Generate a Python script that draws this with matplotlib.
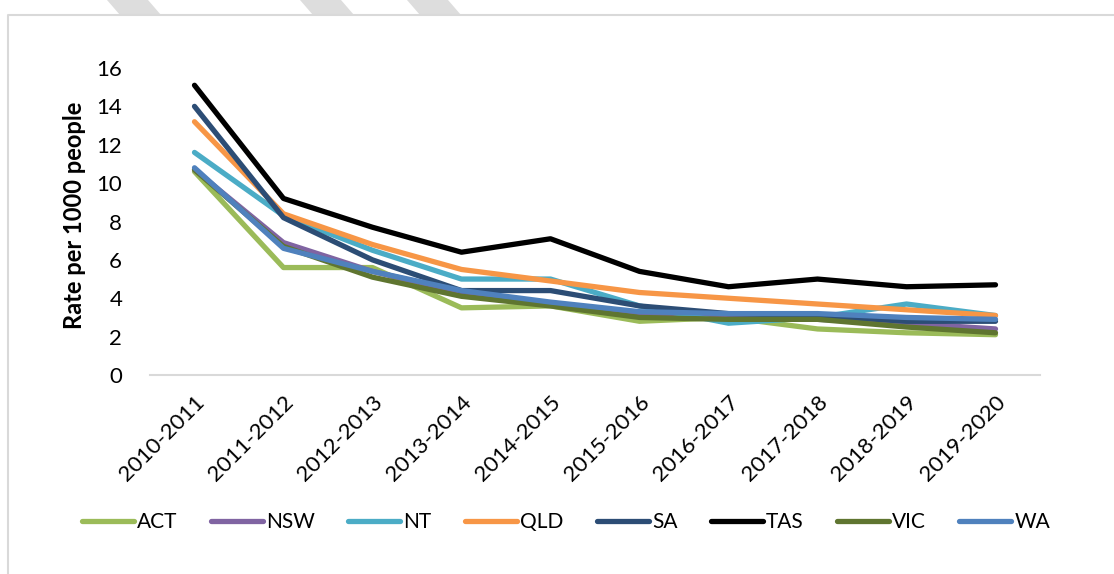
import matplotlib.pyplot as plt
from matplotlib.patches import Polygon
from matplotlib.lines import Line2D

plt.rcParams['font.family'] = ['Lato', 'DejaVu Sans']

years = ['2010-2011', '2011-2012', '2012-2013', '2013-2014', '2014-2015',
         '2015-2016', '2016-2017', '2017-2018', '2018-2019', '2019-2020']

act = [10.6, 5.6, 5.6, 3.5, 3.6, 2.8, 3.0, 2.4, 2.2, 2.1]
nsw = [10.7, 6.9, 5.4, 4.3, 3.7, 3.2, 3.0, 2.9, 2.7, 2.4]
nt = [11.6, 8.3, 6.5, 5.0, 5.0, 3.6, 2.7, 3.0, 3.7, 3.1]
qld = [13.2, 8.4, 6.8, 5.5, 4.9, 4.3, 4.0, 3.7, 3.4, 3.1]
sa = [14.0, 8.2, 6.0, 4.4, 4.4, 3.6, 3.2, 3.1, 2.8, 2.8]
tas = [15.1, 9.2, 7.7, 6.4, 7.1, 5.4, 4.6, 5.0, 4.6, 4.7]
vic = [10.7, 6.7, 5.1, 4.1, 3.6, 3.0, 2.9, 2.9, 2.5, 2.2]
wa = [10.8, 6.6, 5.4, 4.4, 3.8, 3.3, 3.2, 3.2, 3.0, 2.9]

states = ['ACT', 'NSW', 'NT', 'QLD', 'SA', 'TAS', 'VIC', 'WA']
series = [act, nsw, nt, qld, sa, tas, vic, wa]
colors = ['#9BBB59', '#8064A2', '#4BACC6', '#F79646',
          '#2C4D75', '#000000', '#5F7530', '#4F81BD']

W, H = 1114, 574
fig = plt.figure(figsize=(W / 100, H / 100), dpi=100)

# frame (left + top only) and decorative stripes at the top
fig.add_artist(Line2D([8 / W, 8 / W, 1.0], [0.0, 1 - 15 / H, 1 - 15 / H],
                      transform=fig.transFigure, color='#D9D9D9', linewidth=1.5))
for x0 in [107, 300, 407]:
    pts = [(x0, 0), (x0 + 41, 0), (x0 + 54, 15), (x0 + 13, 15)]
    fig.patches.append(Polygon([(px / W, 1 - py / H) for px, py in pts], closed=True,
                               transform=fig.transFigure, facecolor='#DDDDDD', edgecolor='none'))

ax = fig.add_axes([150 / W, 199 / H, 890 / W, 307 / H])

for name, vals, c in zip(states, series, colors):
    ax.plot(range(len(years)), vals, color=c, linewidth=3.8, label=name,
            solid_capstyle='round', solid_joinstyle='round')

ax.set_xlim(-0.5, len(years) - 0.5)
ax.set_ylim(0, 16)
ax.set_yticks(range(0, 17, 2))
ax.set_xticks(range(len(years)))
ax.set_xticklabels(years, rotation=45, ha='right', rotation_mode='anchor')
ax.tick_params(axis='both', length=0, labelsize=16)
ax.tick_params(axis='y', pad=20)
ax.tick_params(axis='x', pad=12)

for s in ['top', 'right', 'left']:
    ax.spines[s].set_visible(False)
ax.spines['bottom'].set_color('#D9D9D9')
ax.spines['bottom'].set_linewidth(1.5)

ax.set_ylabel('Rate per 1000 people', fontsize=17, fontweight='bold')
ax.yaxis.set_label_coords(-0.072, 0.52)

fig.legend(loc='center', bbox_to_anchor=(566 / W, 1 - 522 / H), ncol=8, frameon=False,
           fontsize=15, handlelength=2.5, handletextpad=0.15, columnspacing=1.6)

fig.savefig('out.png', dpi=100)
